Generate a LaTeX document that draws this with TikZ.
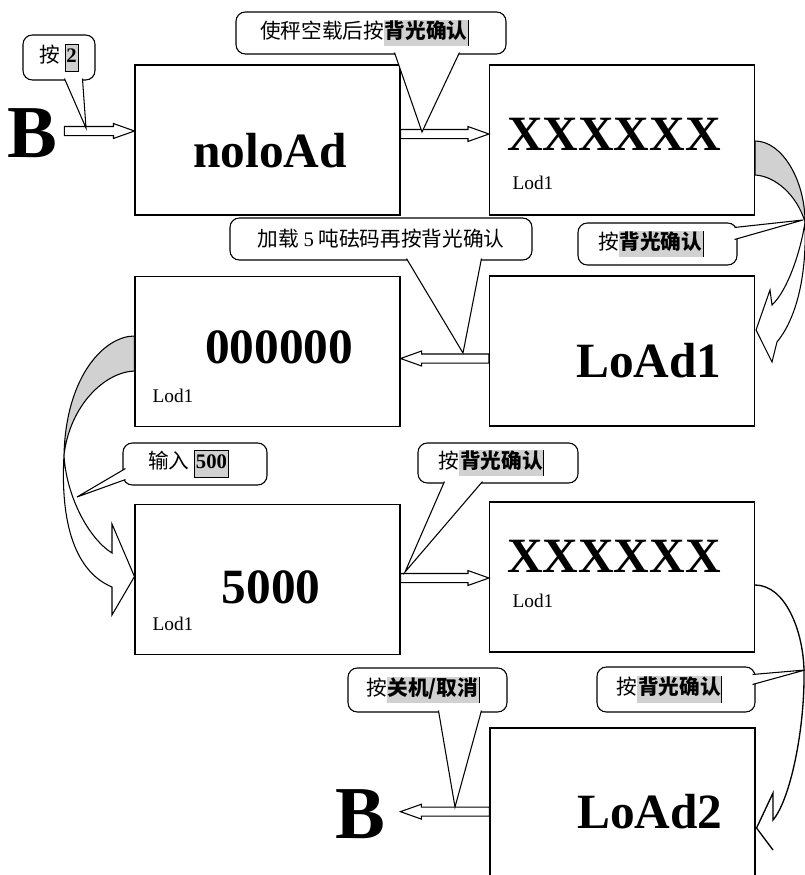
\documentclass[tikz,border=0pt]{standalone}
\usepackage{fontspec}
\setmainfont{Liberation Serif}
\newfontfamily\cjk{Noto Sans CJK SC}
\usepackage{xcolor}
\usepackage{tikz}
\usetikzlibrary{calc,positioning}

\definecolor{hlgray}{gray}{0.82}
\newcommand{\hlt}[1]{{\setlength{\fboxsep}{0.5pt}\colorbox{hlgray}{\bfseries\strut #1}\vrule width 0.6pt}}
\newcommand{\numbox}[1]{{\setlength{\fboxsep}{0.8pt}\setlength{\fboxrule}{0.5pt}\fcolorbox{black}{hlgray}{\rmfamily\bfseries\strut #1}}}

\begin{document}
\begin{tikzpicture}[
  x=0.75pt, y=-0.75pt, line width=0.8pt,
  disp/.style={draw, minimum width=198.75pt, minimum height=112.5pt, inner sep=0pt},
  big/.style={font=\fontsize{37}{40}\selectfont\bfseries, inner sep=0pt, anchor=base},
  bigB/.style={font=\fontsize{56}{60}\selectfont\bfseries, inner sep=0pt, anchor=base},
  lod/.style={font=\fontsize{14.5}{16}\selectfont, inner sep=0pt, anchor=base west},
  callout/.style={draw, fill=white, rounded corners=7pt, inner sep=0pt, font=\cjk\fontsize{15.5}{18}\selectfont},
  ptr/.style={fill=white, line join=miter},
  crescent/.style={draw, fill=hlgray},
  hollow/.style={fill=white, line join=miter, to path={
    let \p1=(\tikztostart), \p2=(\tikztotarget),
        \n1={ifthenelse(\x2>\x1,-15.75,15.75)} in
    (\x1,\y2+3.4pt) -- (\x2+\n1*1pt,\y2+3.4pt) -- (\x2+\n1*1pt,\y2+5.6pt)
    -- (\x2,\y2) -- (\x2+\n1*1pt,\y2-5.6pt) -- (\x2+\n1*1pt,\y2-3.4pt)
    -- (\x1,\y2-3.4pt) -- cycle}}
]
  \useasboundingbox (0,0) rectangle (805,875);
  \clip (0,0) rectangle (805,875);

  % display boxes
  \node[disp] (noload) at (267.5,140) {};
  \node[disp] (xa) at (622,140) {};
  \node[disp] (zero) at (267.5,351.5) {};
  \node[disp] (loada) at (622,351) {};
  \node[disp] (five) at (267.5,579.5) {};
  \node[disp] (xb) at (622,577) {};
  \node[disp] (loadb) at (622.5,803) {};

  \node[big] (tnoload) at (270,167) {noloAd};
  \node[big] (txa) at (614,150) {XXXXXX};
  \node[big] (tzero) at (279,363) {000000};
  \node[big] (tloada) at (649,377) {LoAd1};
  \node[big] (tfive) at (271,603) {5000};
  \node[big] (txb) at (614,572) {XXXXXX};
  \node[big] (tloadb) at (650,828) {LoAd2};

  \node[lod] (la) at (512,189) {Lod1};
  \node[lod] (lb) at (152,402) {Lod1};
  \node[lod] (lc) at (152,630) {Lod1};
  \node[lod] (ld) at (512,607) {Lod1};

  \node[bigB] (bl) at (32,157) {B};
  \node[bigB] (bb) at (360,838) {B};

  % straight arrows
  \draw[hollow] ($(bl.east)+(7,0)$) to ($(noload.west)+(0,-9)$);
  \draw[hollow] ($(noload.east)+(0,-6)$) to ($(xa.west)+(0,-6)$);
  \draw[hollow] ($(loada.west)+(0,7)$) to ($(zero.east)+(0,7)$);
  \draw[hollow] ($(five.east)+(0,-1.5)$) to ($(xb.west)+(0,1)$);
  \draw[hollow] ($(loadb.west)+(0,7)$) to ($(bb.east)+(15,-2)$);

  % curved arrows
  \draw[crescent] ($(xa.east)+(0,1)$) .. controls (782,141) and (805,180) .. (805,222)
    .. controls (797,195) and (775,176) .. ($(xa.east)+(0,35)$) -- cycle;
  \draw[ptr] (805,222) .. controls (801,250) and (788,290) .. (772,305) -- (770,290)
    -- ($(loada.east)+(1,-21)$) -- (772,362) -- (777,342)
    .. controls (795,320) and (807,280) .. (805,222) -- cycle;

  \draw[crescent] ($(zero.west)+(0,-15.5)$) .. controls (105,336) and (66,375) .. (64,455)
    .. controls (70,405) and (105,372) .. ($(zero.west)+(0,19.5)$) -- cycle;
  \draw[ptr] (64,455) .. controls (66,495) and (88,538) .. (112,553) -- (112,524)
    -- ($(five.west)+(0,-3)$) -- (112,615) -- (112,587)
    .. controls (76,572) and (60,525) .. (64,455) -- cycle;

  \draw[line width=1pt, line join=miter] ($(xb.east)+(0,8)$) .. controls (785,585) and (803,630) .. (804,670)
    .. controls (805,730) and (790,800) .. (773,820) -- (773,793)
    -- ($(loadb.east)+(1,25)$) -- (773,850);

  % callouts
  \coordinate (p1) at (86,128);
  \coordinate (p2) at (422,132);
  \coordinate (p3) at (463,353);
  \coordinate (p4) at (803,220);
  \coordinate (p5) at (77,497);
  \coordinate (p6) at (405,572);
  \coordinate (p7) at (455,807);
  \coordinate (p8) at (805,670);

  \node[callout, minimum width=54pt, minimum height=33.75pt] (c1) at (59,57.5) {按 \numbox{2}};
  \node[callout, minimum width=202.5pt, minimum height=31.5pt] (c2) at (371,33) {使秤空载后按\hlt{背光确认}\hspace*{9.75pt}};
  \node[callout, minimum width=226.5pt, minimum height=31.5pt] (c3) at (381,239) {加载 {\rmfamily 5} 吨砝码再按背光确认};
  \node[callout, minimum width=119.25pt, minimum height=31.5pt] (c4) at (657.5,244) {按\hlt{背光确认}\hspace*{9.75pt}};
  \node[callout, minimum width=108pt, minimum height=31.5pt] (c5) at (195,464) {输入 \numbox{500}\hspace*{9.75pt}};
  \node[callout, minimum width=120pt, minimum height=30pt] (c6) at (498,463) {按\hlt{背光确认}\hspace*{9.75pt}};
  \node[callout, minimum width=119.25pt, minimum height=33pt] (c7) at (427.5,690) {按\hlt{关机/取消}\hspace*{6.75pt}};
  \node[callout, minimum width=118.5pt, minimum height=33.75pt] (c8) at (676,689.5) {按\hlt{背光确认}\hspace*{9.75pt}};

  \draw[ptr] ($(c1.south west)+(42,-2)$) -- (p1) -- ($(c1.south west)+(60,-2)$);
  \draw[ptr] ($(c2.south west)+(159,-2)$) -- (p2) -- ($(c2.south west)+(224,-2)$);
  \draw[ptr] ($(c3.south west)+(177,-2)$) -- (p3) -- ($(c3.south west)+(252,-2)$);
  \draw[ptr] ($(c4.north east)+(-3,5)$) -- (p4) -- ($(c4.north east)+(-3,17)$);
  \draw[ptr] ($(c5.south west)+(3,-17)$) -- (p5) -- ($(c5.south west)+(3,-6)$);
  \draw[ptr] ($(c6.south west)+(27,-2)$) -- (p6) -- ($(c6.south west)+(65,-2)$);
  \draw[ptr] ($(c7.south west)+(91,-2)$) -- (p7) -- ($(c7.south west)+(134,-2)$);
  \draw[ptr] ($(c8.north east)+(-3,8)$) -- (p8) -- ($(c8.north east)+(-3,18)$);
\end{tikzpicture}
\end{document}
